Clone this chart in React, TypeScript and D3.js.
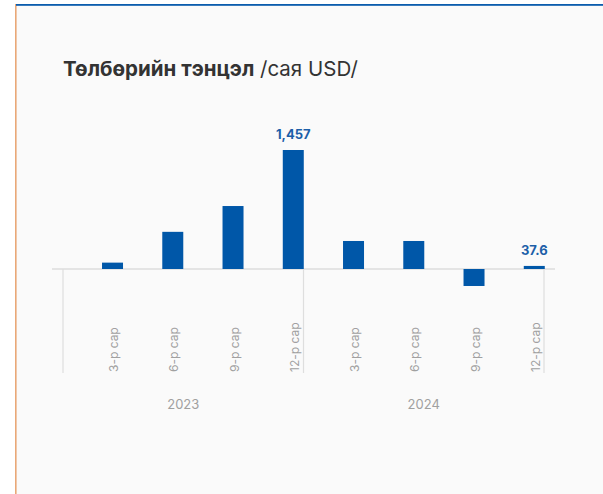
import React, { useEffect, useRef } from 'react';
import * as d3 from 'd3';

// quarterly balance of payments, million USD
const periods = ['3-р сар', '6-р сар', '9-р сар', '12-р сар', '3-р сар', '6-р сар', '9-р сар', '12-р сар'];
const years = ['2023', '2024'];
const values = [78, 455, 771, 1457, 343, 343, -208, 37.6];
// which bars carry a value label
const labelled = [3, 7];

const FONT = 'Inter, Roboto, "Noto Sans", sans-serif';
const BLUE = '#0057a8';

const App: React.FC = () => {
    const ref = useRef<SVGSVGElement | null>(null);

    useEffect(() => {
        if (!ref.current) return;
        const width = 603;
        const height = 494;

        const svg = d3.select(ref.current)
            .attr('width', width)
            .attr('height', height)
            .attr('viewBox', `0 0 ${width} ${height}`);
        svg.selectAll('*').remove();

        // panel background + borders
        svg.append('rect').attr('width', width).attr('height', height).attr('fill', '#ffffff');
        svg.append('rect').attr('x', 16).attr('y', 4).attr('width', width - 16).attr('height', height - 4).attr('fill', '#fafafa');
        svg.append('rect').attr('x', 15).attr('y', 4).attr('width', 1.6).attr('height', height - 4).attr('fill', '#e9a877');
        svg.append('rect').attr('x', 16).attr('y', 4).attr('width', width - 16).attr('height', 1.8).attr('fill', '#0b5cad');

        // title
        const title = svg.append('text')
            .attr('x', 63)
            .attr('y', 75.5)
            .attr('font-family', FONT)
            .attr('font-size', '20.5px')
            .attr('fill', '#333333');
        title.append('tspan').attr('font-weight', '700').text('Төлбөрийн тэнцэл');
        title.append('tspan').attr('font-weight', '400').text(' /сая USD/');

        const x = d3.scaleBand<number>()
            .domain(d3.range(values.length))
            .range([82.4, 564.4])
            .paddingInner(0.6515)
            .paddingOuter(0.32575);

        const y = d3.scaleLinear()
            .domain([0, 1457])
            .range([269, 150]);

        // group axis (years)
        const g = d3.scaleLinear().domain([0, years.length]).range([63, 544]);
        const axisBottom = 373;

        svg.append('g')
            .selectAll('line')
            .data(d3.range(years.length + 1))
            .join('line')
            .attr('x1', d => g(d))
            .attr('x2', d => g(d))
            .attr('y1', y(0))
            .attr('y2', axisBottom)
            .attr('stroke', '#dedede')
            .attr('stroke-width', 1.2);

        // zero line
        svg.append('line')
            .attr('x1', 52)
            .attr('x2', 555)
            .attr('y1', y(0))
            .attr('y2', y(0))
            .attr('stroke', '#dcdcdc')
            .attr('stroke-width', 1.5);

        // bars
        svg.append('g')
            .selectAll('rect')
            .data(values)
            .join('rect')
            .attr('x', (_, i) => x(i)!)
            .attr('width', x.bandwidth())
            .attr('y', d => y(Math.max(0, d)))
            .attr('height', d => Math.abs(y(d) - y(0)))
            .attr('fill', BLUE);

        // value labels
        svg.append('g')
            .selectAll('text')
            .data(labelled)
            .join('text')
            .attr('x', i => x(i)! + x.bandwidth() / 2)
            .attr('y', i => y(values[i]) - 11)
            .attr('text-anchor', 'middle')
            .attr('font-family', FONT)
            .attr('font-size', '13px')
            .attr('font-weight', '700')
            .attr('fill', '#1c5fa8')
            .text(i => d3.format(values[i] >= 100 ? ',.0f' : '.1f')(values[i]));

        // rotated period labels
        svg.append('g')
            .selectAll('text')
            .data(periods)
            .join('text')
            .attr('transform', (_, i) => `translate(${x(i)! + x.bandwidth() / 2 + 5.5},${axisBottom - 1}) rotate(-90)`)
            .attr('font-family', FONT)
            .attr('font-size', '12px')
            .attr('fill', '#a0a0a0')
            .text(d => d);

        // year labels
        svg.append('g')
            .selectAll('text')
            .data(years)
            .join('text')
            .attr('x', (_, i) => (g(i) + g(i + 1)) / 2)
            .attr('y', 409)
            .attr('text-anchor', 'middle')
            .attr('font-family', FONT)
            .attr('font-size', '13px')
            .attr('fill', '#a0a0a0')
            .text(d => d);
    }, []);

    return (
        <div style={{ position: 'absolute', left: 0, top: 0 }}>
            <svg ref={ref} style={{ display: 'block' }}></svg>
        </div>
    );
};

export default App;
